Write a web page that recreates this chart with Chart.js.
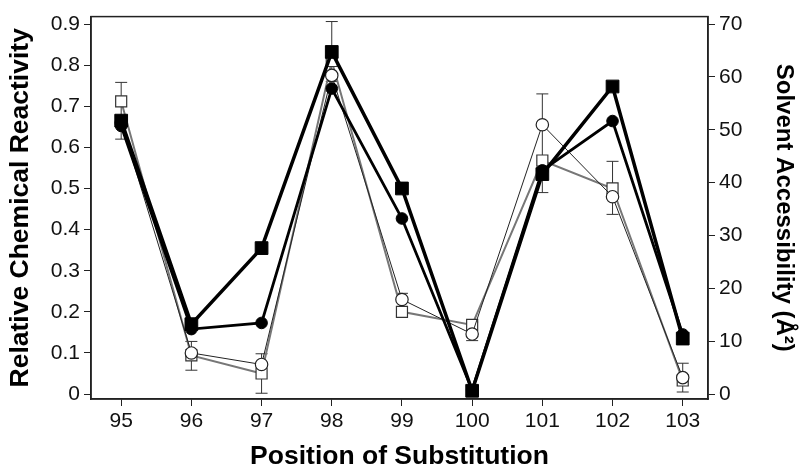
<!DOCTYPE html>
<html>
<head>
<meta charset="utf-8">
<script src="https://cdn.jsdelivr.net/npm/chart.js@4.4.0/dist/chart.umd.min.js"></script>
<style>
  html, body { margin: 0; padding: 0; background: #fff; }
  #canvas { display: block; }
</style>
</head>
<body>
<canvas id="canvas" width="800" height="476"></canvas>
<script>
// positions along the x axis
var positions = [95, 96, 97, 98, 99, 100, 101, 102, 103];

// the four series (left axis units)
var filledSquares = [0.665, 0.17, 0.355, 0.832, 0.50, 0.008, 0.535, 0.748, 0.135];
var filledCircles = [0.652, 0.158, 0.173, 0.743, 0.427, 0.01, 0.544, 0.664, 0.145];
var openCircles   = [0.66, 0.10, 0.072, 0.775, 0.23, 0.146, 0.655, 0.48, 0.04];
var openSquares   = [0.712, 0.094, 0.05, 0.81, 0.20, 0.168, 0.568, 0.50, 0.033];

// error bars (low / high)
var errLow  = [0.62, 0.058, 0.002, 0.76, 0.19, 0.13, 0.49, 0.437, 0.005];
var errHigh = [0.758, 0.128, 0.098, 0.906, 0.245, 0.175, 0.73, 0.566, 0.075];

// tick labels
var leftTicks  = [0, 0.1, 0.2, 0.3, 0.4, 0.5, 0.6, 0.7, 0.8, 0.9];
var rightTicks = [0, 10, 20, 30, 40, 50, 60, 70];

var yMin = -0.012, yMax = 0.918;
var ratio = 70 / 0.9;

function pts(arr) {
    return positions.map(function (p, i) { return { x: p, y: arr[i] }; });
}

var fontName = "'Liberation Sans', Arial, sans-serif";

var extras = {
    id: 'extras',
    beforeDatasetsDraw: function (chart) {
        var c = chart.ctx, xs = chart.scales.x, ys = chart.scales.y;
        c.save();
        c.strokeStyle = '#333';
        c.lineWidth = 1;
        for (var i = 0; i < positions.length; i++) {
            var px = xs.getPixelForValue(positions[i]);
            var lo = ys.getPixelForValue(errLow[i]);
            var hi = ys.getPixelForValue(errHigh[i]);
            c.beginPath();
            c.moveTo(px, lo); c.lineTo(px, hi);
            c.moveTo(px - 6, lo); c.lineTo(px + 6, lo);
            c.moveTo(px - 6, hi); c.lineTo(px + 6, hi);
            c.stroke();
        }
        c.restore();
    },
    afterDraw: function (chart) {
        var a = chart.chartArea, c = chart.ctx;
        c.save();
        c.strokeStyle = '#222';
        c.lineWidth = 1.5;
        c.strokeRect(a.left, a.top, a.right - a.left, a.bottom - a.top);
        c.restore();
    }
};

var ctx = document.getElementById('canvas').getContext('2d');
var myChart = new Chart(ctx, {
    type: 'line',
    data: {
        datasets: [{
            data: pts(filledSquares),
            borderColor: '#000',
            backgroundColor: '#000',
            borderWidth: 3.5,
            pointStyle: 'rect',
            pointRadius: 9,
            pointBorderWidth: 1
        }, {
            data: pts(filledCircles),
            borderColor: '#000',
            backgroundColor: '#000',
            borderWidth: 2.8,
            pointStyle: 'circle',
            pointRadius: 5.8,
            pointBorderWidth: 1
        }, {
            data: pts(openCircles),
            borderColor: '#222',
            backgroundColor: '#fff',
            borderWidth: 1,
            pointStyle: 'circle',
            pointRadius: 6.2,
            pointBorderWidth: 1.2
        }, {
            data: pts(openSquares),
            borderColor: '#777',
            backgroundColor: '#fff',
            borderWidth: 2,
            pointStyle: 'rect',
            pointRadius: 7.8,
            pointBorderColor: '#333',
            pointBorderWidth: 1.2
        }]
    },
    options: {
        responsive: false,
        animation: false,
        layout: { padding: { top: 11, right: 0, bottom: 2, left: 4 } },
        plugins: { legend: { display: false }, tooltip: { enabled: false } },
        scales: {
            x: {
                type: 'linear',
                min: 94.57,
                max: 103.36,
                afterBuildTicks: function (s) { s.ticks = positions.map(function (v) { return { value: v }; }); },
                afterFit: function (s) { s.height = 75; },
                grid: { drawOnChartArea: false, tickLength: 7, color: '#222' },
                border: { color: '#222', width: 1.5 },
                ticks: { color: '#111', font: { family: fontName, size: 21 }, padding: 3, maxRotation: 0 },
                title: { display: true, text: 'Position of Substitution', color: '#000', font: { family: fontName, size: 26.5, weight: 'bold' }, padding: { top: 0, bottom: 1 } }
            },
            y: {
                position: 'left',
                min: yMin,
                max: yMax,
                afterBuildTicks: function (s) { s.ticks = leftTicks.map(function (v) { return { value: v }; }); },
                afterFit: function (s) { s.width = 87; },
                grid: { drawOnChartArea: false, tickLength: 7, color: '#222' },
                border: { color: '#222', width: 1.5 },
                ticks: {
                    color: '#111', font: { family: fontName, size: 21 }, padding: 4,
                    callback: function (v) { return v === 0 ? '0' : v.toFixed(1); }
                },
                title: { display: true, text: 'Relative Chemical Reactivity', color: '#000', font: { family: fontName, size: 26.5, weight: 'bold' }, padding: { top: 1, bottom: 4 } }
            },
            y2: {
                position: 'right',
                min: yMin * ratio,
                max: yMax * ratio,
                afterBuildTicks: function (s) { s.ticks = rightTicks.map(function (v) { return { value: v }; }); },
                afterFit: function (s) { s.width = 92; },
                grid: { drawOnChartArea: false, tickLength: 7, color: '#222' },
                border: { color: '#222', width: 1.5 },
                ticks: { color: '#111', font: { family: fontName, size: 21 }, padding: 4 },
                title: { display: true, text: 'Solvent Accessibility (Å²)', color: '#000', font: { family: fontName, size: 24, weight: 'bold' }, padding: { top: 2, bottom: 4 } }
            }
        }
    },
    plugins: [extras]
});
</script>
</body>
</html>
